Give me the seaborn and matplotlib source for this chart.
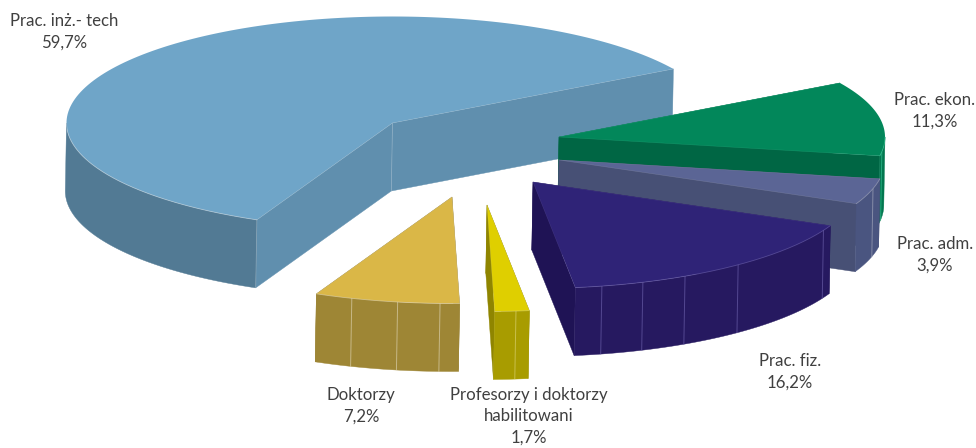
import numpy as np
import matplotlib
matplotlib.use("Agg")
import matplotlib.pyplot as plt
import seaborn as sns
import colorsys

categories = ["Prac. inż.- tech", "Doktorzy", "Profesorzy i doktorzy\nhabilitowani",
              "Prac. fiz.", "Prac. adm.", "Prac. ekon."]
values = [59.7, 7.2, 1.7, 16.2, 3.9, 11.3]

top_colors = ["#6FA5C8", "#DAB747", "#DFCF00", "#2F2377", "#5B6595", "#02875A"]
cut_colors = ["#608FAE", "#8F7A30", "#8F8500", "#1F1355", "#475075", "#006644"]
rim_colors = ["#527A94", "#9E8635", "#A89C00", "#261960", "#4A5580", "#02774F"]
apex_xy = [(392.5, 123), (452, 197), (487, 205), (533, 182), (559, 160), (559, 137)]
label_xy = [(64, 32), (361, 406), (529, 416), (790, 372), (935, 255), (935, 111)]
draw_order = [0, 5, 4, 3, 2, 1]

START = 30.5
RX, RY, DEPTH, LEAN = 326, 106.5, 68, -1.2
RIDGES = [252.1, 260.4, 267.9, 275.1, 282.2, 289.7, 297.8, 309.0, 333.0, 344.4, 352.0]

sns.set_theme(style="white")
plt.rcParams["font.family"] = ["Lato", "DejaVu Sans"]
fig, ax = plt.subplots(figsize=(9.76, 4.48), dpi=100)
fig.subplots_adjust(0, 0, 1, 1)
ax.set_xlim(0, 976)
ax.set_ylim(448, 0)
ax.axis("off")


def arc(cx, cy, a, b, n=160):
    t = np.radians(np.linspace(a, b, n))
    return cx + RX * np.cos(t), cy - RY * np.sin(t)


def point(cx, cy, a):
    x, y = arc(cx, cy, a, a, 1)
    return x[0], y[0]


def lighter(color, amount=0.25):
    h, l, s = colorsys.rgb_to_hls(*matplotlib.colors.to_rgb(color))
    return colorsys.hls_to_rgb(h, min(0.85, l + amount), s * 0.6)


spans = np.array(values) / sum(values) * 360
starts = START + np.r_[0, np.cumsum(spans)[:-1]]

for z, i in enumerate(draw_order):
    a, b = starts[i], starts[i] + spans[i]
    cx, cy = apex_xy[i]
    top, cut, rim = top_colors[i], cut_colors[i], rim_colors[i]
    edge = lighter(top)
    base = z * 10
    for ang in (b, a):
        px, py = point(cx, cy, ang)
        ax.fill([cx, px, px + LEAN, cx + LEAN], [cy, py, py + DEPTH, cy + DEPTH],
                color=cut, lw=0.3, zorder=base + 1)
    for k in (0, 360):
        lo, hi = max(a, 180 + k), min(b, 360 + k)
        if hi > lo:
            x, y = arc(cx, cy, lo, hi)
            ax.fill(np.r_[x, x[::-1] + LEAN], np.r_[y, y[::-1] + DEPTH],
                    color=rim, lw=0.3, zorder=base + 2)
            ax.plot(x, y, color=edge, lw=0.6, alpha=0.6, zorder=base + 5)
            if i != 0:
                for r in RIDGES:
                    if lo <= r < hi:
                        rx, ry = point(cx, cy, r)
                        ax.plot([rx, rx + LEAN], [ry, ry + DEPTH], color=edge,
                                lw=0.7, alpha=0.6, zorder=base + 3)
    x, y = arc(cx, cy, a, b)
    ax.fill(np.r_[cx, x], np.r_[cy, y], color=top, lw=0, zorder=base + 4)
    p1, p2 = point(cx, cy, a), point(cx, cy, b)
    ax.plot([p2[0], cx, p1[0]], [p2[1], cy, p1[1]], color=edge, lw=0.4,
            alpha=0.3, zorder=base + 5)
    if i == 0:
        ax.plot([cx, cx + LEAN], [cy, cy + DEPTH], color=edge, lw=0.5, alpha=0.4, zorder=base + 5)
        ax.plot([p2[0], p2[0] + LEAN], [p2[1], p2[1] + DEPTH], color=edge, lw=0.5, alpha=0.4, zorder=base + 5)

for name, val, (lx, ly) in zip(categories, values, label_xy):
    pct = f"{val:.1f}".replace(".", ",")
    ax.text(lx, ly, f"{name}\n{pct}%", ha="center", va="center", fontsize=12.1,
            color="#404040", linespacing=1.42, zorder=200)

fig.savefig("out.png", dpi=100)
